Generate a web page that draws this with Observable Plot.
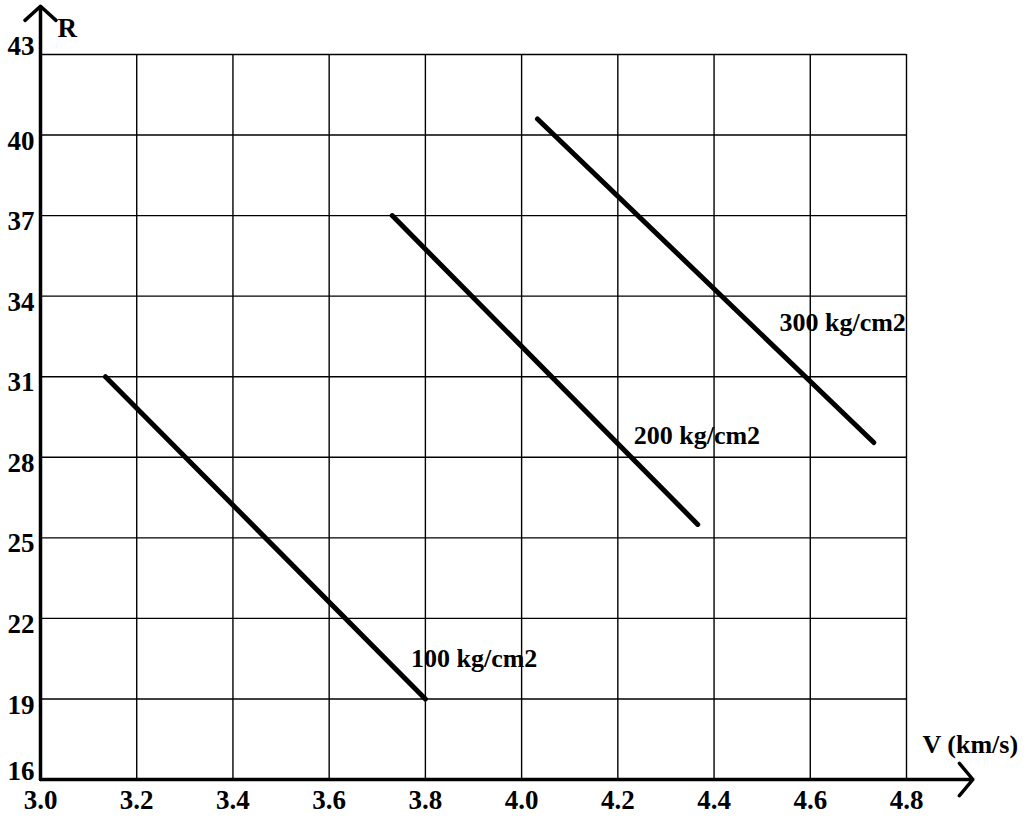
<!DOCTYPE html>
<html>
<head>
<meta charset="utf-8">
<script src="https://cdn.jsdelivr.net/npm/d3@7"></script>
<script src="https://cdn.jsdelivr.net/npm/@observablehq/plot@0.6"></script>
<style>
  html, body { margin: 0; padding: 0; background: #fff; overflow: hidden; }
  #chart svg { display: block; }
</style>
</head>
<body>
<div id="chart"></div>
<script>
// Tick values
const xTicks = [3.0, 3.2, 3.4, 3.6, 3.8, 4.0, 4.2, 4.4, 4.6, 4.8];
const yTicks = [16, 19, 22, 25, 28, 31, 34, 37, 40, 43];
const yTicksEnds = [16, 43];
const yTicksInner = [19, 22, 25, 28, 31, 34, 37, 40];

// Series: compressive strength lines (V in km/s, R)
const seriesNames = ["100 kg/cm2", "200 kg/cm2", "300 kg/cm2"];
const seriesV = [[3.135, 3.80], [3.731, 4.366], [4.033, 4.732]];
const seriesR = [[31.0, 19.0], [37.0, 25.5], [40.6, 28.55]];

// Series label anchors (data space)
const labelV = [3.77, 4.233, 4.536];
const labelR = [20.5, 28.8, 33.0];

// Axis arrow extents (data space)
const axisVmax = 4.938;
const axisRmax = 44.8;

const lineData = seriesNames.flatMap((name, i) =>
  seriesV[i].map((v, j) => ({series: name, V: v, R: seriesR[i][j]})));
const labelData = seriesNames.map((name, i) => ({name, V: labelV[i], R: labelR[i]}));

const chart = Plot.plot({
  width: 1027,
  height: 821,
  marginLeft: 40,
  marginRight: 121,
  marginTop: 54,
  marginBottom: 42,
  style: {fontFamily: "'Liberation Serif', 'Times New Roman', serif", fontSize: "26px", fontWeight: "bold", background: "#fff", color: "#000"},
  x: {domain: [3.0, 4.8], ticks: xTicks, tickFormat: d => d.toFixed(1)},
  y: {domain: [16, 43], ticks: yTicks},
  marks: [
    Plot.gridX(xTicks, {stroke: "#000", strokeOpacity: 1, strokeWidth: 1.4}),
    Plot.gridY(yTicks, {stroke: "#000", strokeOpacity: 1, strokeWidth: 1.4}),
    Plot.axisX(xTicks, {tickSize: 0, tickPadding: 10, tickFormat: d => d.toFixed(1), label: null, fontSize: 27}),
    Plot.axisY(yTicksEnds, {tickSize: 0, tickPadding: 6, label: null, fontSize: 27, dy: -8}),
    Plot.axisY(yTicksInner, {tickSize: 0, tickPadding: 6, label: null, fontSize: 27, dy: 6}),
    Plot.arrow([{x1: 3.0, y1: 16, x2: axisVmax, y2: 16}], {x1: "x1", y1: "y1", x2: "x2", y2: "y2", stroke: "#000", strokeWidth: 3.5, headLength: 9, headAngle: 100}),
    Plot.arrow([{x1: 3.0, y1: 16, x2: 3.0, y2: axisRmax}], {x1: "x1", y1: "y1", x2: "x2", y2: "y2", stroke: "#000", strokeWidth: 3.5, headLength: 9, headAngle: 95}),
    Plot.line(lineData, {x: "V", y: "R", z: "series", stroke: "#000", strokeWidth: 5, strokeLinecap: "round"}),
    Plot.text(labelData, {x: "V", y: "R", text: "name", textAnchor: "start", fill: "#000", fontSize: 26, fontWeight: "bold"}),
    Plot.text(["R"], {frameAnchor: "top-left", text: d => d, textAnchor: "start", dx: 17, dy: -18, lineAnchor: "bottom", fontSize: 27, fontWeight: "bold"}),
    Plot.text(["V (km/s)"], {frameAnchor: "bottom-right", text: d => d, textAnchor: "start", dx: 16, dy: -27, fontSize: 26, fontWeight: "bold"})
  ]
});
document.getElementById("chart").appendChild(chart);
</script>
</body>
</html>
